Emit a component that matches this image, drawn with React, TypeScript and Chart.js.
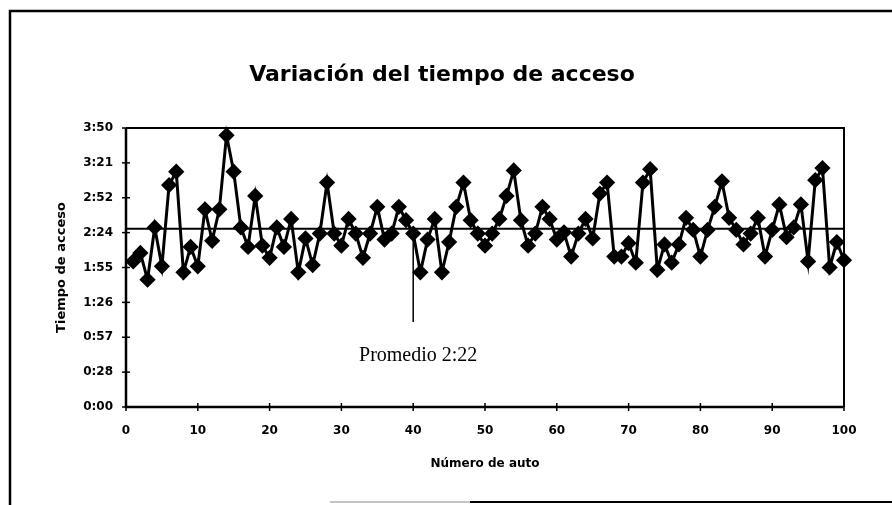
import { useEffect, useRef } from "react";
import { Chart, registerables } from "chart.js";

Chart.register(...registerables);

// Access time per car, in seconds (car numbers 1..100)
const accessTimes: number[] = [
  120, 127, 105, 148, 116, 183, 194, 111, 132, 116,
  163, 137, 163, 224, 194, 148, 132, 174, 133, 123,
  148, 132, 155, 111, 139, 117, 143, 185, 143, 133,
  155, 143, 123, 143, 165, 138, 143, 165, 154, 143,
  111, 138, 155, 111, 136, 165, 185, 154, 143, 133,
  143, 155, 174, 195, 154, 133, 143, 165, 155, 138,
  144, 124, 143, 155, 139, 176, 185, 124, 124, 135,
  119, 185, 196, 113, 134, 119, 134, 156, 146, 124,
  146, 165, 186, 156, 146, 134, 143, 156, 124, 146,
  167, 140, 148, 167, 120, 187, 197, 115, 136, 121,
];

const yTickLabels: string[] = ["0:00", "0:28", "0:57", "1:26", "1:55", "2:24", "2:52", "3:21", "3:50"];
const yMax = 230;
const yStep = 28.75;
const averageValue = 147; // drawn average line ("Promedio 2:22")
const annotationCar = 40;
const annotationBottom = 70;
const annotationTextValue = 42;

const titleText = "Variación del tiempo de acceso";
const xTitleText = "Número de auto";
const yTitleText = "Tiempo de acceso";
const annotationText = "Promedio 2:22";

const boldFont = "'DejaVu Sans', 'Liberation Sans', Arial, sans-serif";

const decorPlugin = {
  id: "decor",
  beforeDraw(chart: any) {
    const { ctx, width, height } = chart;
    ctx.save();
    ctx.fillStyle = "#fff";
    ctx.fillRect(0, 0, width, height);
    // outer frame
    ctx.strokeStyle = "#000";
    ctx.lineWidth = 2.5;
    ctx.beginPath();
    ctx.moveTo(10, height);
    ctx.lineTo(10, 11);
    ctx.lineTo(width, 11);
    ctx.stroke();
    ctx.lineWidth = 2;
    ctx.beginPath();
    ctx.moveTo(470, 502);
    ctx.lineTo(width, 502);
    ctx.stroke();
    ctx.lineWidth = 1;
    ctx.strokeStyle = "#888";
    ctx.beginPath();
    ctx.moveTo(330, 502);
    ctx.lineTo(470, 502);
    ctx.stroke();
    ctx.restore();
  },
  afterDraw(chart: any) {
    const { ctx, chartArea, scales } = chart;
    const x = scales.x;
    const y = scales.y;
    ctx.save();
    ctx.strokeStyle = "#000";
    // plot box
    ctx.lineWidth = 2;
    ctx.beginPath();
    ctx.moveTo(chartArea.left, chartArea.top);
    ctx.lineTo(chartArea.right, chartArea.top);
    ctx.lineTo(chartArea.right, chartArea.bottom);
    ctx.stroke();
    ctx.lineWidth = 2.5;
    ctx.beginPath();
    ctx.moveTo(chartArea.left, chartArea.top);
    ctx.lineTo(chartArea.left, chartArea.bottom);
    ctx.lineTo(chartArea.right, chartArea.bottom);
    ctx.stroke();
    // crossing tick marks
    ctx.lineWidth = 1.5;
    x.ticks.forEach((t: any) => {
      const px = x.getPixelForValue(t.value);
      ctx.beginPath();
      ctx.moveTo(px, chartArea.bottom - 4);
      ctx.lineTo(px, chartArea.bottom + 4);
      ctx.stroke();
    });
    y.ticks.forEach((t: any) => {
      const py = y.getPixelForValue(t.value);
      ctx.beginPath();
      ctx.moveTo(chartArea.left - 4, py);
      ctx.lineTo(chartArea.left + 4, py);
      ctx.stroke();
    });
    // titles
    ctx.fillStyle = "#000";
    ctx.textAlign = "center";
    ctx.textBaseline = "middle";
    ctx.font = `bold 22px ${boldFont}`;
    ctx.fillText(titleText, 442, 75);
    ctx.font = `bold 12px ${boldFont}`;
    ctx.fillText(xTitleText, (chartArea.left + chartArea.right) / 2, 464);
    ctx.save();
    ctx.translate(62, (chartArea.top + chartArea.bottom) / 2);
    ctx.rotate(-Math.PI / 2);
    ctx.font = `bold 13px ${boldFont}`;
    ctx.fillText(yTitleText, 0, 0);
    ctx.restore();
    // annotation text
    ctx.font = "20px 'Liberation Serif', 'Times New Roman', serif";
    ctx.fillText(annotationText, x.getPixelForValue(annotationCar) + 5, y.getPixelForValue(annotationTextValue));
    ctx.restore();
  },
};

export default function App() {
  const canvasRef = useRef<HTMLCanvasElement | null>(null);

  useEffect(() => {
    if (!canvasRef.current) return;
    const seriesData = accessTimes.map((v, i) => ({ x: i + 1, y: v }));
    const chart = new Chart(canvasRef.current, {
      type: "line",
      data: {
        datasets: [
          {
            label: "Tiempo de acceso",
            data: seriesData,
            borderColor: "#000",
            backgroundColor: "#000",
            borderWidth: 3,
            pointStyle: "rectRot",
            pointRadius: 6,
            pointBackgroundColor: "#000",
            pointBorderColor: "#000",
            tension: 0,
            clip: false,
          },
          {
            label: "Promedio",
            data: [
              { x: 0, y: averageValue },
              { x: 100, y: averageValue },
            ],
            borderColor: "#000",
            borderWidth: 2,
            pointRadius: 0,
          },
          {
            label: "Anotación",
            data: [
              { x: annotationCar, y: annotationBottom },
              { x: annotationCar, y: accessTimes[annotationCar - 1] },
            ],
            borderColor: "#000",
            borderWidth: 1.5,
            pointRadius: 0,
          },
        ],
      },
      options: {
        animation: false,
        responsive: false,
        devicePixelRatio: 1,
        layout: { padding: { top: 128, right: 48, left: 0, bottom: 0 } },
        plugins: {
          legend: { display: false },
          tooltip: { enabled: false },
          title: { display: false },
        },
        scales: {
          x: {
            type: "linear",
            min: 0,
            max: 100,
            grid: { display: false, drawTicks: false },
            border: { display: false },
            ticks: {
              stepSize: 10,
              padding: 17,
              color: "#000",
              font: { family: boldFont, size: 12, weight: "bold" },
              maxRotation: 0,
            },
            afterFit: (scale: any) => {
              scale.height = 98;
            },
          },
          y: {
            type: "linear",
            min: 0,
            max: yMax,
            grid: { display: false, drawTicks: false },
            border: { display: false },
            ticks: {
              stepSize: yStep,
              padding: 13,
              color: "#000",
              font: { family: boldFont, size: 12, weight: "bold" },
              callback: (_v: any, idx: number) => yTickLabels[idx] ?? "",
            },
            afterFit: (scale: any) => {
              scale.width = 126;
            },
          },
        },
      },
      plugins: [decorPlugin],
    });
    return () => chart.destroy();
  }, []);

  return (
    <div style={{ position: "fixed", left: 0, top: 0, width: 892, height: 505, background: "#fff" }}>
      <canvas ref={canvasRef} width={892} height={505} style={{ display: "block" }} />
    </div>
  );
}
